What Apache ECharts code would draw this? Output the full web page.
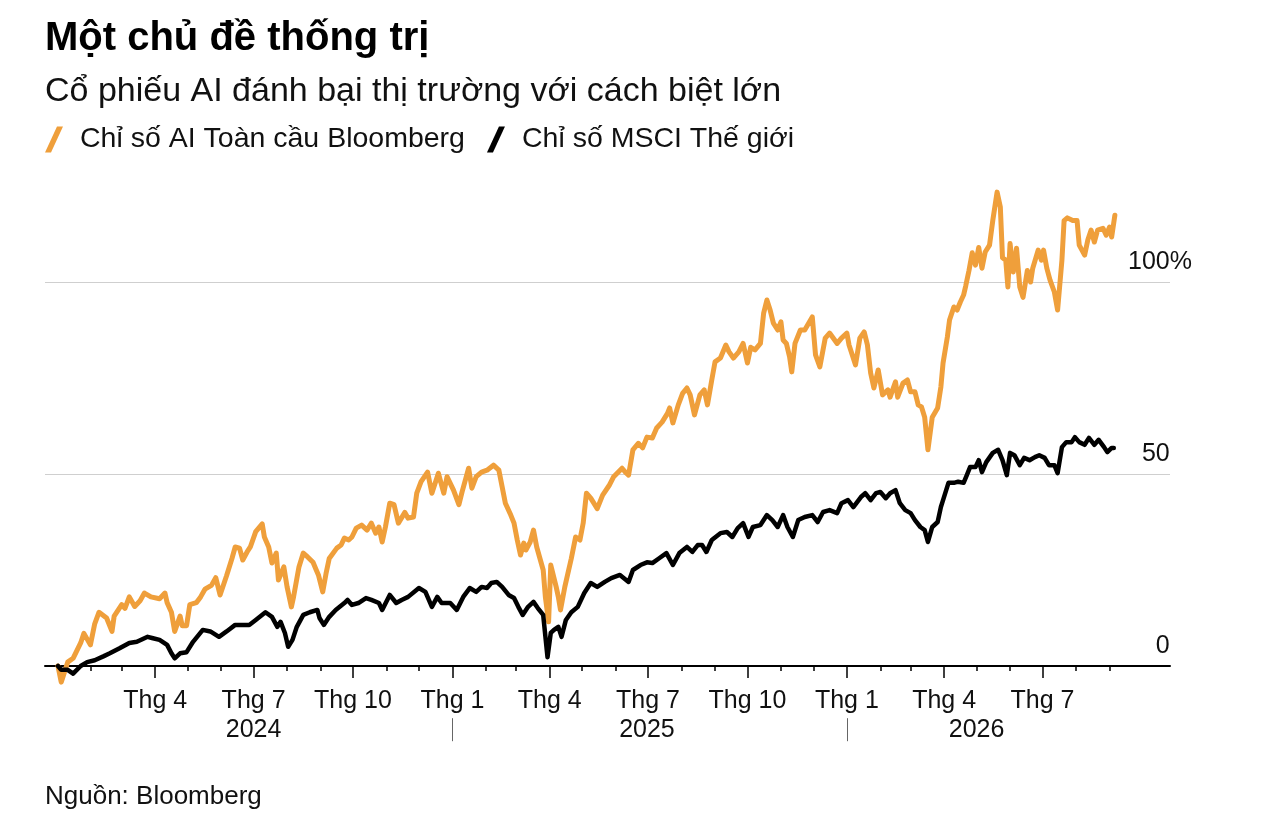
<!DOCTYPE html>
<html lang="vi">
<head>
<meta charset="UTF-8">
<title>Một chủ đề thống trị</title>
<style>
  html, body { margin: 0; padding: 0; background: #fff; }
  #chart { width: 1262px; height: 832px; }
</style>
</head>
<body>
<div id="chart"></div>
<script src="https://cdn.jsdelivr.net/npm/echarts@6.0.0/dist/echarts.min.js"></script>
<script>
// Chỉ số AI Toàn cầu Bloomberg (% thay đổi)
var aiDates = [
  '2024-01-02','2024-01-05','2024-01-11','2024-01-16','2024-01-23','2024-01-26','2024-02-01','2024-02-05','2024-02-09','2024-02-16',
  '2024-02-21','2024-02-23','2024-03-01','2024-03-04','2024-03-08','2024-03-13','2024-03-18','2024-03-22','2024-03-28','2024-04-05',
  '2024-04-10','2024-04-12','2024-04-16','2024-04-19','2024-04-24','2024-04-26','2024-04-30','2024-05-03','2024-05-09','2024-05-13',
  '2024-05-17','2024-05-23','2024-05-27','2024-05-31','2024-06-06','2024-06-11','2024-06-14','2024-06-18','2024-06-21','2024-06-25',
  '2024-06-28','2024-07-03','2024-07-09','2024-07-11','2024-07-15','2024-07-18','2024-07-22','2024-07-24','2024-07-29','2024-08-01',
  '2024-08-05','2024-08-07','2024-08-12','2024-08-16','2024-08-20','2024-08-25','2024-08-28','2024-08-30','2024-09-03','2024-09-06',
  '2024-09-09','2024-09-16','2024-09-20','2024-09-23','2024-09-27','2024-09-30','2024-10-04','2024-10-09','2024-10-14','2024-10-18',
  '2024-10-22','2024-10-25','2024-10-28','2024-10-31','2024-11-04','2024-11-08','2024-11-12','2024-11-18','2024-11-21','2024-11-26',
  '2024-11-29','2024-12-03','2024-12-09','2024-12-13','2024-12-19','2024-12-24','2024-12-27','2025-01-02','2025-01-07','2025-01-10',
  '2025-01-16','2025-01-19','2025-01-23','2025-01-28','2025-02-02','2025-02-08','2025-02-13','2025-02-16','2025-02-19','2025-02-24',
  '2025-02-27','2025-03-02','2025-03-05','2025-03-08','2025-03-10','2025-03-14','2025-03-17','2025-03-20','2025-03-23','2025-03-26',
  '2025-03-28','2025-03-31','2025-04-02','2025-04-07','2025-04-09','2025-04-11','2025-04-15','2025-04-21','2025-04-25','2025-04-29',
  '2025-05-02','2025-05-05','2025-05-09','2025-05-15','2025-05-20','2025-05-26','2025-05-30','2025-06-07','2025-06-10','2025-06-13',
  '2025-06-17','2025-06-22','2025-06-26','2025-06-30','2025-07-05','2025-07-09','2025-07-14','2025-07-19','2025-07-21','2025-07-24',
  '2025-07-29','2025-08-02','2025-08-06','2025-08-09','2025-08-13','2025-08-18','2025-08-22','2025-08-25','2025-08-29','2025-09-01',
  '2025-09-06','2025-09-11','2025-09-14','2025-09-18','2025-09-23','2025-09-27','2025-10-01','2025-10-04','2025-10-08','2025-10-13',
  '2025-10-16','2025-10-19','2025-10-22','2025-10-25','2025-10-29','2025-11-01','2025-11-03','2025-11-06','2025-11-09','2025-11-11',
  '2025-11-14','2025-11-19','2025-11-23','2025-11-30','2025-12-03','2025-12-07','2025-12-12','2025-12-16','2025-12-23','2025-12-27',
  '2026-01-01','2026-01-03','2026-01-09','2026-01-13','2026-01-17','2026-01-20','2026-01-23','2026-01-26','2026-01-30','2026-02-03',
  '2026-02-08','2026-02-10','2026-02-15','2026-02-17','2026-02-22','2026-02-26','2026-03-01','2026-03-05','2026-03-08','2026-03-11',
  '2026-03-14','2026-03-17','2026-03-21','2026-03-26','2026-03-29','2026-03-31','2026-04-04','2026-04-06','2026-04-10','2026-04-13',
  '2026-04-16','2026-04-19','2026-04-21','2026-04-24','2026-04-27','2026-04-30','2026-05-03','2026-05-06','2026-05-09','2026-05-13',
  '2026-05-16','2026-05-20','2026-05-23','2026-05-25','2026-05-28','2026-05-30','2026-06-01','2026-06-04','2026-06-07','2026-06-10',
  '2026-06-13','2026-06-17','2026-06-20','2026-06-22','2026-06-27','2026-06-30','2026-07-02','2026-07-05','2026-07-08','2026-07-12',
  '2026-07-15','2026-07-19','2026-07-21','2026-07-24','2026-07-29','2026-08-02','2026-08-04','2026-08-09','2026-08-12','2026-08-15',
  '2026-08-18','2026-08-21','2026-08-26','2026-08-29','2026-09-01','2026-09-03','2026-09-06'
];
var aiValues = [
  0, -4.2, 1, 2, 6, 8.5, 5.5, 11, 14, 12.5,
  9, 13, 16, 15, 18, 15.5, 17, 19, 18, 17.5,
  19, 16.5, 14, 9, 13, 10.5, 10.5, 16, 16.5, 18,
  20, 21, 23, 18.5, 23.5, 28, 31, 30.7, 27.6, 29.7,
  31, 35, 37, 33.6, 31, 26.8, 29.4, 22.4, 25.8, 20.6,
  15.4, 18, 25.8, 29.4, 28.4, 27, 25, 23.7, 19.3, 24,
  28, 30.7, 31.5, 33.3, 32.8, 33.6, 35.9, 36.7, 35.4, 37.2,
  34.6, 36.2, 32.3, 36.2, 42.4, 42, 37.2, 40, 38.5, 38.8,
  45, 48, 50.5, 45, 50.2, 45, 49.3, 45.8, 42, 45.4,
  51.5, 46.3, 49.3, 50.5, 51, 52.3, 51, 46.7, 42.4, 39.3,
  37.2, 32.8, 28.9, 32, 30.2, 32.3, 35.4, 31, 28, 25,
  18, 11.5, 26.3, 20.6, 18, 14.6, 20.6, 28, 33.6, 32.8,
  37.2, 45, 43.7, 41, 44.5, 47, 49.2, 51.5, 50.5, 49.7,
  56.3, 58, 56.8, 59.6, 59.4, 62, 63.5, 65.8, 67.2, 63.3,
  68, 71, 72.4, 70.6, 65.4, 70.6, 71.9, 68, 74.5, 79.2,
  80.2, 83.6, 81.8, 80.2, 81.8, 84, 78.9, 83, 82.3, 84,
  91.9, 95.3, 92.7, 89.3, 87.5, 89.6, 84.9, 84, 80.5, 76.6,
  84, 87.5, 87.5, 90.9, 81, 77.9, 85.4, 86.7, 84, 85.4,
  86.7, 83.6, 78.4, 85.4, 87, 83.6, 76.3, 72.4, 77.1, 70.6,
  71.9, 70, 74, 70, 73.7, 74.5, 71.4, 71.4, 68, 67.5,
  64.8, 56.3, 64.8, 67.2, 72.7, 78.9, 85.7, 90.1, 93.5, 92.7,
  94.8, 96.6, 99, 103, 107.6, 104.4, 109, 103.6, 107.8, 109.6,
  116, 123.4, 119.5, 106.3, 105.7, 98.7, 110, 102.6, 108.8, 98.7,
  96, 103, 100, 103.6, 108.3, 105.7, 108.3, 103.6, 100.5, 97.4,
  92.7, 105.7, 116, 116.7, 116, 116, 109.6, 107, 111, 113.5,
  110.4, 113.5, 114, 112.2, 114.3, 111.7, 117.4
];

// Chỉ số MSCI Thế giới (% thay đổi)
var msciDates = [
  '2024-01-02','2024-01-05','2024-01-11','2024-01-16','2024-01-23','2024-01-29','2024-02-05','2024-02-13','2024-02-19','2024-02-28',
  '2024-03-08','2024-03-15','2024-03-25','2024-03-29','2024-04-05','2024-04-12','2024-04-16','2024-04-19','2024-04-24','2024-04-30',
  '2024-05-06','2024-05-15','2024-05-22','2024-05-30','2024-06-06','2024-06-14','2024-06-27','2024-07-03','2024-07-12','2024-07-18',
  '2024-07-23','2024-07-26','2024-07-30','2024-08-02','2024-08-06','2024-08-10','2024-08-16','2024-08-22','2024-08-29','2024-08-31',
  '2024-09-04','2024-09-09','2024-09-15','2024-09-23','2024-09-26','2024-09-30','2024-10-06','2024-10-13','2024-10-18','2024-10-25',
  '2024-10-28','2024-11-04','2024-11-10','2024-11-15','2024-11-21','2024-12-01','2024-12-07','2024-12-13','2024-12-18','2024-12-22',
  '2024-12-30','2025-01-05','2025-01-11','2025-01-17','2025-01-23','2025-01-28','2025-02-02','2025-02-06','2025-02-11','2025-02-16',
  '2025-02-22','2025-02-27','2025-03-03','2025-03-07','2025-03-12','2025-03-17','2025-03-21','2025-03-26','2025-03-30','2025-04-02',
  '2025-04-05','2025-04-09','2025-04-12','2025-04-16','2025-04-21','2025-04-27','2025-05-03','2025-05-09','2025-05-15','2025-05-22',
  '2025-05-28','2025-06-05','2025-06-13','2025-06-17','2025-06-24','2025-06-30','2025-07-05','2025-07-11','2025-07-18','2025-07-24',
  '2025-07-30','2025-08-06','2025-08-11','2025-08-16','2025-08-20','2025-08-24','2025-08-29','2025-09-06','2025-09-12','2025-09-17',
  '2025-09-22','2025-09-27','2025-10-02','2025-10-06','2025-10-13','2025-10-19','2025-10-24','2025-10-29','2025-11-03','2025-11-07',
  '2025-11-12','2025-11-17','2025-11-23','2025-11-30','2025-12-05','2025-12-10','2025-12-16','2025-12-23','2025-12-27','2026-01-02',
  '2026-01-07','2026-01-14','2026-01-18','2026-01-23','2026-01-28','2026-02-01','2026-02-06','2026-02-10','2026-02-15','2026-02-19',
  '2026-02-24','2026-03-01','2026-03-05','2026-03-10','2026-03-14','2026-03-17','2026-03-21','2026-03-26','2026-03-29','2026-03-31',
  '2026-04-05','2026-04-10','2026-04-14','2026-04-19','2026-04-22','2026-04-25','2026-04-30','2026-05-03','2026-05-06','2026-05-10',
  '2026-05-16','2026-05-21','2026-05-25','2026-05-29','2026-06-01','2026-06-05','2026-06-10','2026-06-14','2026-06-19','2026-06-24',
  '2026-06-28','2026-07-03','2026-07-07','2026-07-12','2026-07-15','2026-07-19','2026-07-23','2026-07-28','2026-07-31','2026-08-04',
  '2026-08-09','2026-08-13','2026-08-18','2026-08-22','2026-08-27','2026-08-30','2026-09-03','2026-09-05'
];
var msciValues = [
  0, -1, -1, -2, 0, 1, 1.5, 2.5, 3.3, 4.6,
  6, 6.3, 7.6, 7.3, 6.8, 5.5, 3.3, 2, 3.3, 3.6,
  6.3, 9.4, 9, 7.6, 9, 10.7, 10.7, 12, 14, 12.8,
  10.2, 11.5, 8.6, 5, 6.8, 10.2, 13.3, 14, 14.6, 12.5,
  10.7, 12.8, 14.6, 16.4, 17.2, 15.9, 16.4, 17.7, 17.2, 16.4,
  14.6, 18.5, 16.4, 17.2, 18, 20.3, 19.3, 15.4, 18, 16.4,
  16.4, 14.6, 18, 20.3, 19.3, 20.6, 20.3, 21.6, 21.9, 20.6,
  18.5, 17.7, 15.4, 13.3, 15.4, 16.7, 15.1, 13.3, 2.3, 8.6,
  9.4, 10.2, 7.6, 12, 14, 15.4, 19, 21.6, 20.6, 21.9,
  22.9, 23.7, 21.9, 25, 26.3, 27, 26.8, 28, 29.4, 26.3,
  29.4, 31, 29.7, 31.5, 31.5, 29.7, 32.8, 34.6, 34.9, 33.6,
  35.9, 37.2, 33.6, 36.2, 36.7, 39.3, 38, 36.2, 39.3, 36.2,
  33.6, 38, 38.8, 39.3, 37.5, 40.1, 40.6, 39.8, 42.4, 43.2,
  41.4, 44, 45, 43.2, 45, 45.3, 43.7, 45, 45.8, 42.4,
  40.6, 39.8, 38, 36.2, 35.4, 32.3, 36.2, 37.5, 41.4, 43.2,
  47.7, 47.7, 48, 47.7, 49.7, 51.8, 51.8, 53.6, 50.5, 53.1,
  55.5, 56.3, 53.6, 49.7, 55.5, 54.9, 52.3, 54.2, 53.6, 54.4,
  54.9, 54.2, 52.3, 52.3, 50.2, 57, 58.3, 58.3, 59.6, 58.3,
  57.6, 59.4, 57.6, 58.9, 57, 55.7, 56.8, 56.8
];

// nhãn trục
var quarterTicks = ['2024-04-01','2024-07-01','2024-10-01','2025-01-01','2025-04-01','2025-07-01','2025-10-01','2026-01-01','2026-04-01','2026-07-01'];
var quarterLabels = ['Thg 4','Thg 7','Thg 10','Thg 1','Thg 4','Thg 7','Thg 10','Thg 1','Thg 4','Thg 7'];
var yearLabelDates = ['2024-07-01','2025-06-30','2026-05-01'];
var yearLabels = ['2024','2025','2026'];
var yearBreaks = ['2025-01-01','2026-01-01'];
var yLabelValues = [0, 50, 100];
var yLabelTexts = ['0', '50', '100%'];

var FONT = '"Liberation Sans", Arial, sans-serif';
var ORANGE = '#EF9F3B';

function toTime(s) {
    var p = s.split('-');
    return new Date(+p[0], +p[1] - 1, +p[2]).getTime();
}
function pairs(dates, vals) {
    return dates.map(function (d, i) { return [toTime(d), vals[i]]; });
}

var quarterTimes = quarterTicks.map(toTime);
var yearTimes = yearLabelDates.map(toTime);
var breakTimes = yearBreaks.map(toTime);
// vạch tháng nhỏ, thg 2/2024 -> thg 9/2026
var monthTimes = [];
for (var m = 1; m <= 32; m++) {
    monthTimes.push(new Date(2024, m, 1).getTime());
}

var X_MIN = toTime('2023-12-21');
var X_MAX = toTime('2026-10-27');

// trục x dùng kiểu value với mốc thời gian (ms) để đặt vạch theo tháng
function baseX(extra) {
    var o = {
        type: 'value',
        min: X_MIN,
        max: X_MAX,
        position: 'bottom',
        splitLine: { show: false },
        axisPointer: { show: false }
    };
    for (var k in extra) o[k] = extra[k];
    return o;
}

var myChart = echarts.init(document.getElementById('chart'), null, { renderer: 'canvas' });

var option = {
    animation: false,
    backgroundColor: '#fff',
    textStyle: { fontFamily: FONT },
    title: [
        {
            text: 'Một chủ đề thống trị',
            left: 40, top: 14,
            textStyle: { fontFamily: FONT, fontSize: 40, fontWeight: 'bold', color: '#000' }
        },
        {
            text: 'Cổ phiếu AI đánh bại thị trường với cách biệt lớn',
            left: 40, top: 70,
            textStyle: { fontFamily: FONT, fontSize: 34, fontWeight: 'normal', color: '#111' }
        },
        {
            text: 'Nguồn: Bloomberg',
            left: 40, top: 779,
            textStyle: { fontFamily: FONT, fontSize: 26, fontWeight: 'normal', color: '#111' }
        }
    ],
    legend: {
        left: 40, top: 120,
        itemWidth: 18, itemHeight: 26,
        itemGap: 22,
        selectedMode: false,
        textStyle: { fontFamily: FONT, fontSize: 28.5, color: '#111', padding: [0, 0, 0, 12] },
        data: [
            { name: 'Chỉ số AI Toàn cầu Bloomberg', icon: 'path://M0,26 L12,0 L18,0 L6,26 Z', itemStyle: { color: ORANGE } },
            { name: 'Chỉ số MSCI Thế giới', icon: 'path://M0,26 L12,0 L18,0 L6,26 Z', itemStyle: { color: '#000' } }
        ]
    },
    grid: {
        left: 45, right: 92, top: 186, bottom: 146.8,
        outerBoundsMode: 'none',
        containLabel: false
    },
    xAxis: [
        baseX({
            axisLine: { onZero: true, onZeroAxisIndex: 0, lineStyle: { color: '#000', width: 2 } },
            axisTick: { customValues: quarterTimes, length: 12, lineStyle: { color: '#000', width: 1.5 } },
            axisLabel: {
                customValues: quarterTimes,
                margin: 3,
                fontFamily: FONT, fontSize: 25, color: '#111',
                formatter: function (v) {
                    var i = quarterTimes.indexOf(v);
                    return i < 0 ? '' : quarterLabels[i];
                }
            }
        }),
        baseX({
            axisLine: { show: false, onZero: true, onZeroAxisIndex: 0 },
            axisTick: { customValues: monthTimes, length: 5, lineStyle: { color: '#000', width: 1.5 } },
            axisLabel: { show: false }
        }),
        baseX({
            axisLine: { show: false, onZero: true, onZeroAxisIndex: 0 },
            axisTick: { show: false },
            axisLabel: {
                customValues: yearTimes,
                margin: 32,
                fontFamily: FONT, fontSize: 25, color: '#111',
                formatter: function (v) {
                    var i = yearTimes.indexOf(v);
                    return i < 0 ? '' : yearLabels[i];
                }
            }
        }),
        baseX({
            offset: 33,
            axisLine: { show: false, onZero: false },
            axisTick: { customValues: breakTimes, length: 23, lineStyle: { color: '#666', width: 1 } },
            axisLabel: { show: false }
        })
    ],
    yAxis: {
        type: 'value',
        position: 'right',
        min: -5,
        max: 125,
        splitNumber: 3,
        axisLine: { show: false, onZero: false },
        axisTick: { show: false },
        splitLine: { show: true, showMinLine: false, showMaxLine: false, lineStyle: { color: '#cfcfcf', width: 1.2 } },
        axisLabel: {
            inside: true,
            margin: -22,
            verticalAlign: 'bottom',
            padding: [0, 0, 7, 0],
            fontFamily: FONT, fontSize: 25, color: '#111',
            // số căn phải tại mép lưới, dấu % nằm ngoài
            formatter: function (v) {
                var i = yLabelValues.indexOf(v);
                if (i < 0) return '';
                var t = yLabelTexts[i];
                return t.charAt(t.length - 1) === '%' ? t : t + '{h|%}';
            },
            rich: {
                h: { fontFamily: FONT, fontSize: 25, color: 'rgba(0,0,0,0)' }
            }
        }
    },
    series: [
        {
            name: 'Chỉ số AI Toàn cầu Bloomberg',
            type: 'line',
            xAxisIndex: 0,
            showSymbol: false,
            clip: false,
            data: pairs(aiDates, aiValues),
            lineStyle: { color: ORANGE, width: 5, join: 'round', cap: 'round' },
            itemStyle: { color: ORANGE }
        },
        {
            name: 'Chỉ số MSCI Thế giới',
            type: 'line',
            xAxisIndex: 0,
            showSymbol: false,
            clip: false,
            data: pairs(msciDates, msciValues),
            lineStyle: { color: '#000', width: 4.5, join: 'round', cap: 'round' },
            itemStyle: { color: '#000' }
        }
    ]
};

myChart.setOption(option);
</script>
</body>
</html>
